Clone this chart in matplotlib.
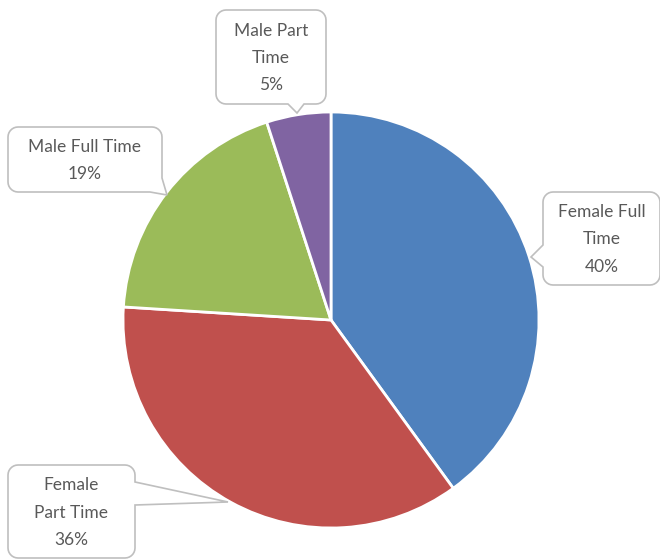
import matplotlib.pyplot as plt
import numpy as np
from matplotlib.patches import Polygon

# data
labels = ['Female Full\nTime', 'Female\nPart Time', 'Male Full Time', 'Male Part\nTime']
values = [40, 36, 19, 5]
colors = ['#4F81BD', '#C0504D', '#9BBB59', '#8064A2']

W, H = 660, 560
fig = plt.figure(figsize=(W / 100, H / 100), dpi=100)

# pie axes: centre (331, 320) px, radius 208 px
cx, cy, r = 331, 320, 208
ax = fig.add_axes([(cx - r) / W, (H - cy - r) / H, 2 * r / W, 2 * r / H])
ax.pie(values, colors=colors, startangle=90, counterclock=False, radius=1,
       wedgeprops=dict(edgecolor='white', linewidth=2))
ax.set_xlim(-1, 1)
ax.set_ylim(-1, 1)
ax.set_aspect('equal')
ax.axis('off')

# overlay axes in pixel coordinates for the callouts
ov = fig.add_axes([0, 0, 1, 1])
ov.set_xlim(0, W)
ov.set_ylim(H, 0)
ov.axis('off')


def rounded_box(x0, y0, x1, y1, rad, side, a, b, tip):
    # outline of a rounded box with a pointer on one side
    def arc(xc, yc, t0, t1):
        t = np.linspace(np.radians(t0), np.radians(t1), 8)
        return [(xc + rad * np.cos(v), yc + rad * np.sin(v)) for v in t]
    pts = []
    pts += [(x0 + rad, y0)]
    pts += [(x1 - rad, y0)]
    pts += arc(x1 - rad, y0 + rad, -90, 0)
    if side == 'right':
        pts += [(x1, a), tip, (x1, b)]
    if side == 'corner_br':
        pts += [(x1, a), tip]
        pts += [(b, y1)]
    else:
        pts += arc(x1 - rad, y1 - rad, 0, 90)
    if side == 'bottom':
        pts += [(b, y1), tip, (a, y1)]
    pts += arc(x0 + rad, y1 - rad, 90, 180)
    if side == 'left':
        pts += [(x0, b), tip, (x0, a)]
    pts += arc(x0 + rad, y0 + rad, 180, 270)
    return pts


callouts = [
    # box (x0, y0, x1, y1), pointer side, base a, base b, tip
    ((543, 192, 660, 285), 'left', 245, 267, (531, 257)),
    ((8, 465, 135, 558), 'right', 482, 505, (228, 502)),
    ((8, 127, 162, 192), 'corner_br', 178, 150, (167, 195)),
    ((216, 10, 326, 104), 'bottom', 288, 304, (297, 113)),
]

for lab, val, (box, side, a, b, tip) in zip(labels, values, callouts):
    x0, y0, x1, y1 = box
    pts = rounded_box(x0, y0, x1, y1, 10, side, a, b, tip)
    ov.add_patch(Polygon(pts, closed=True, facecolor='white',
                         edgecolor='#BFBFBF', linewidth=1.2, zorder=3))
    ov.text((x0 + x1) / 2, (y0 + y1) / 2 + 1, f'{lab}\n{val}%',
            ha='center', va='center', fontsize=12.5, color='#595959',
            family='Lato', linespacing=1.85, zorder=4)

fig.savefig('out.png', dpi=100)
